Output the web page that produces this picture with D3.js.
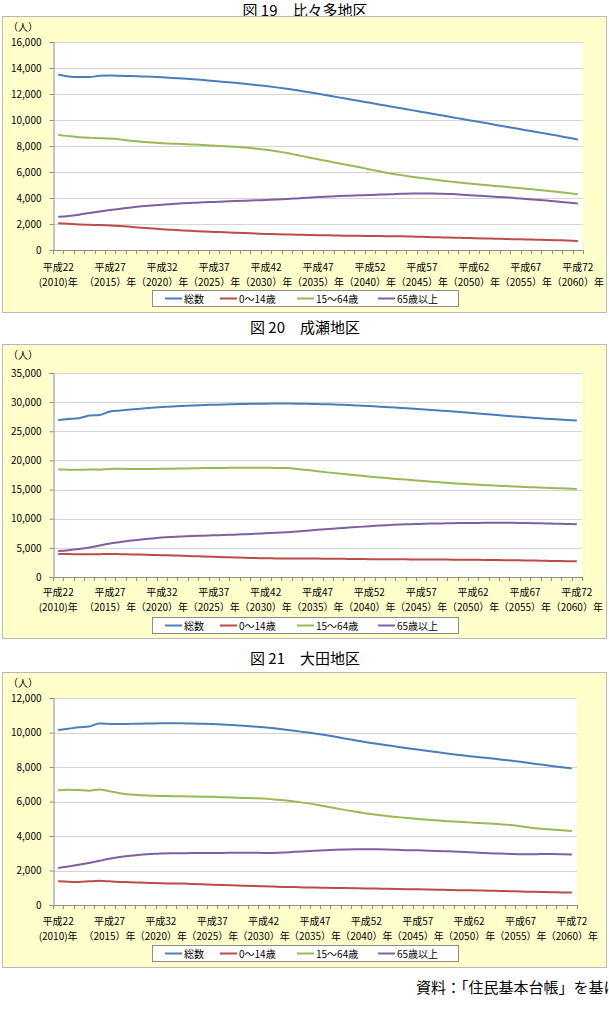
<!DOCTYPE html>
<html>
<head>
<meta charset="utf-8">
<script src="https://cdn.jsdelivr.net/npm/d3@7"></script>
<style>
  body { margin: 0; background: #fff; }
  svg { display: block; }
  text { font-family: "Noto Sans CJK JP", sans-serif; fill: #000; }
</style>
</head>
<body>
<svg id="chart" width="609" height="1010"></svg>
<script>
// categories (2010-2060, one per year)
var years = [2010,2011,2012,2013,2014,2015,2016,2017,2018,2019,2020,2021,2022,2023,2024,2025,2026,2027,2028,2029,
  2030,2031,2032,2033,2034,2035,2036,2037,2038,2039,2040,2041,2042,2043,2044,2045,2046,2047,2048,2049,
  2050,2051,2052,2053,2054,2055,2056,2057,2058,2059,2060];
var labelYears = [2010,2015,2020,2025,2030,2035,2040,2045,2050,2055,2060];
var heiseiLabels = ["平成22","平成27","平成32","平成37","平成42","平成47","平成52","平成57","平成62","平成67","平成72"];
var seirekiLabels = ["(2010)年","（2015）年","（2020）年","（2025）年","（2030）年","（2035）年","（2040）年","（2045）年","（2050）年","（2055）年","（2060）年"];
var seriesNames = ["総数","0～14歳","15～64歳","65歳以上"];

// 図19 比々多地区
var hibitaTotal = [13500,13350,13300,13310,13400,13420,13400,13380,13350,13320,13280,13240,13190,13130,13070,13000,12930,12860,12780,12700,
  12610,12510,12400,12280,12150,12020,11880,11740,11600,11460,11320,11180,11040,10900,10760,10620,10480,10340,10200,10060,
  9920,9780,9640,9500,9360,9220,9080,8940,8800,8650,8500];
var hibitaYoung = [2050,2010,1970,1940,1920,1890,1840,1780,1720,1660,1600,1550,1500,1460,1420,1390,1360,1330,1300,1270,
  1240,1220,1200,1180,1160,1140,1130,1110,1100,1090,1080,1070,1060,1050,1030,1010,990,970,950,930,
  910,890,870,850,830,810,790,770,750,730,700];
var hibitaWork = [8850,8760,8680,8630,8600,8570,8500,8400,8320,8270,8220,8180,8150,8110,8070,8030,7990,7940,7880,7800,
  7720,7600,7460,7300,7140,6980,6820,6670,6520,6360,6200,6040,5890,5760,5640,5530,5420,5330,5240,5150,
  5070,5000,4930,4860,4790,4720,4640,4560,4480,4390,4290];
var hibitaOld = [2550,2620,2720,2840,2960,3070,3170,3270,3360,3430,3490,3540,3590,3630,3670,3700,3730,3760,3790,3820,
  3850,3880,3920,3970,4020,4070,4110,4150,4180,4210,4240,4260,4280,4320,4340,4350,4350,4330,4300,4250,
  4200,4150,4100,4050,3990,3930,3870,3800,3730,3650,3570];

// 図20 成瀬地区
var naruseTotal = [26950,27100,27250,27700,27800,28400,28580,28730,28880,29020,29150,29250,29340,29420,29490,29550,29600,29650,29690,29720,
  29740,29750,29750,29740,29710,29670,29620,29560,29490,29410,29320,29220,29110,29010,28900,28780,28660,28540,28410,28270,
  28120,27970,27820,27680,27540,27410,27290,27170,27050,26940,26830];
var naruseYoung = [3950,3930,3910,3900,3920,3950,3920,3880,3840,3790,3740,3690,3640,3580,3520,3460,3400,3350,3300,3250,
  3210,3190,3180,3180,3170,3160,3140,3120,3100,3080,3060,3050,3040,3030,3020,3010,3000,2990,2980,2970,
  2950,2930,2910,2890,2870,2840,2810,2780,2750,2720,2700];
var naruseWork = [18450,18420,18380,18450,18400,18550,18560,18540,18520,18530,18560,18590,18620,18650,18680,18700,18720,18730,18740,18750,
  18740,18720,18680,18550,18350,18150,17950,17760,17580,17400,17230,17070,16920,16780,16640,16500,16360,16230,16100,15990,
  15890,15800,15710,15620,15540,15460,15380,15310,15240,15170,15100];
var naruseOld = [4450,4600,4800,5050,5400,5750,6000,6250,6450,6620,6780,6880,6960,7030,7090,7150,7210,7270,7340,7420,
  7500,7580,7680,7800,7950,8100,8230,8350,8480,8600,8720,8830,8920,9000,9060,9110,9160,9200,9230,9260,
  9280,9290,9300,9300,9290,9270,9240,9200,9150,9100,9050];

// 図21 大田地区
var otaTotal = [10150,10220,10300,10350,10520,10500,10490,10500,10510,10520,10530,10530,10530,10520,10510,10490,10460,10430,10390,10350,
  10300,10240,10170,10100,10020,9940,9850,9750,9640,9540,9440,9350,9260,9170,9090,9010,8930,8850,8770,8700,
  8630,8570,8510,8440,8370,8300,8220,8140,8060,7990,7920];
var otaYoung = [1380,1350,1340,1370,1400,1370,1340,1320,1300,1280,1260,1250,1240,1220,1200,1180,1160,1140,1120,1100,
  1090,1070,1050,1040,1020,1010,1000,990,980,970,960,950,940,930,920,910,900,890,870,860,
  850,840,830,810,800,780,770,760,740,730,720];
var otaWork = [6650,6680,6660,6630,6700,6600,6480,6400,6360,6340,6320,6310,6300,6290,6280,6270,6250,6230,6210,6190,
  6170,6120,6070,6000,5920,5830,5720,5610,5500,5400,5310,5230,5160,5100,5040,4990,4940,4900,4860,4830,
  4790,4750,4720,4680,4640,4560,4480,4420,4370,4330,4290];
var otaOld = [2150,2230,2330,2440,2560,2680,2780,2850,2910,2950,2990,3000,3000,3010,3010,3020,3020,3030,3030,3030,
  3020,3020,3040,3080,3110,3140,3170,3200,3220,3230,3230,3230,3220,3200,3180,3170,3150,3130,3110,3090,
  3060,3030,3000,2980,2960,2940,2940,2950,2950,2940,2920];

var colors = ["#4a7ebb", "#be4b48", "#98b954", "#7d60a0"];

var charts = [
  { title: "図 19　比々多地区", titleY: 9, boxTop: 16, boxBottom: 312, unitY: 26, plotTop: 42, plotBottom: 250, plotRight: 583,
    yMax: 16000, yStep: 2000, lbl1: 266, lbl2: 281, legendY: 298, series: [hibitaTotal, hibitaYoung, hibitaWork, hibitaOld] },
  { title: "図 20　成瀬地区", titleY: 326, boxTop: 344, boxBottom: 638, unitY: 354, plotTop: 373, plotBottom: 577, plotRight: 582,
    yMax: 35000, yStep: 5000, lbl1: 591, lbl2: 606, legendY: 625, series: [naruseTotal, naruseYoung, naruseWork, naruseOld] },
  { title: "図 21　大田地区", titleY: 657, boxTop: 672, boxBottom: 967, unitY: 682, plotTop: 698, plotBottom: 905, plotRight: 577,
    yMax: 12000, yStep: 2000, lbl1: 920, lbl2: 935, legendY: 953, series: [otaTotal, otaYoung, otaWork, otaOld] }
];

var svg = d3.select("#chart");
var axisX = 53;

charts.forEach(function(c) {
  var g = svg.append("g");

  g.append("text").attr("x", 305).attr("y", c.titleY).attr("text-anchor", "middle")
    .attr("dominant-baseline", "central").style("font-size", "15px").text(c.title);

  g.append("rect").attr("x", 2.5).attr("y", c.boxTop + 0.5).attr("width", 604).attr("height", c.boxBottom - c.boxTop)
    .attr("fill", "#ffffcc").attr("stroke", "#b9b9b9");

  // plot area
  g.append("rect").attr("x", axisX).attr("y", c.plotTop).attr("width", c.plotRight - axisX)
    .attr("height", c.plotBottom - c.plotTop).attr("fill", "#fff");

  var x = d3.scalePoint().domain(years).range([axisX, c.plotRight]).padding(0.5);
  var y = d3.scaleLinear().domain([0, c.yMax]).range([c.plotBottom, c.plotTop]);
  var ticks = d3.range(0, c.yMax + 1, c.yStep);

  // gridlines
  g.selectAll(".grid").data(ticks.slice(1)).enter().append("line")
    .attr("x1", axisX).attr("x2", c.plotRight)
    .attr("y1", function(d) { return Math.round(y(d)) + 0.5; })
    .attr("y2", function(d) { return Math.round(y(d)) + 0.5; })
    .attr("stroke", "#d4d4d4");

  // y axis
  var yAxis = g.append("g").attr("transform", "translate(" + (axisX + 0.5) + ",0)")
    .call(d3.axisLeft(y).tickValues(ticks).tickFormat(d3.format(",")).tickSize(4).tickPadding(8));
  yAxis.select(".domain").attr("stroke", "#8c8c8c");
  yAxis.selectAll(".tick line").attr("stroke", "#8c8c8c");
  yAxis.selectAll("text").style("font-size", "10px").attr("fill", "#000")
    .style("font-family", "\"Noto Sans CJK JP\", sans-serif");

  g.append("text").attr("x", 8).attr("y", c.unitY).attr("dominant-baseline", "central")
    .style("font-size", "10px").text("（人）");

  // x axis with ticks on category boundaries
  var step = x.step();
  g.append("line").attr("x1", axisX).attr("x2", c.plotRight)
    .attr("y1", c.plotBottom + 0.5).attr("y2", c.plotBottom + 0.5).attr("stroke", "#8c8c8c");
  var bounds = years.map(function(d) { return x(d) - step / 2; }).concat([c.plotRight]);
  g.selectAll(".xt").data(bounds).enter().append("line")
    .attr("x1", function(d) { return Math.round(d) + 0.5; })
    .attr("x2", function(d) { return Math.round(d) + 0.5; })
    .attr("y1", c.plotBottom).attr("y2", c.plotBottom + 4).attr("stroke", "#8c8c8c");

  g.selectAll(".xl1").data(labelYears).enter().append("text")
    .attr("x", function(d) { return x(d); }).attr("y", c.lbl1)
    .attr("text-anchor", "middle").attr("dominant-baseline", "central").style("font-size", "10px")
    .text(function(d, i) { return heiseiLabels[i]; });
  g.selectAll(".xl2").data(labelYears).enter().append("text")
    .attr("x", function(d) { return x(d); }).attr("y", c.lbl2)
    .attr("text-anchor", "middle").attr("dominant-baseline", "central").style("font-size", "10px")
    .text(function(d, i) { return seirekiLabels[i]; });

  // series lines
  var line = d3.line().x(function(d, i) { return x(years[i]); }).y(function(d) { return y(d); })
    .curve(d3.curveMonotoneX);
  c.series.forEach(function(s, k) {
    g.append("path").datum(s).attr("d", line).attr("fill", "none")
      .attr("stroke", colors[k]).attr("stroke-width", 2).attr("stroke-linejoin", "round");
  });

  // legend
  var lg = g.append("g").attr("transform", "translate(0," + c.legendY + ")");
  lg.append("rect").attr("x", 152.5).attr("y", -7.5).attr("width", 306).attr("height", 16)
    .attr("fill", "#fff").attr("stroke", "#8c8c8c");
  var legX = [165, 220, 297, 378];
  seriesNames.forEach(function(n, k) {
    lg.append("line").attr("x1", legX[k]).attr("x2", legX[k] + 17).attr("y1", 0.5).attr("y2", 0.5)
      .attr("stroke", colors[k]).attr("stroke-width", 2);
    lg.append("text").attr("x", legX[k] + 19).attr("y", 0.5).attr("dominant-baseline", "central")
      .style("font-size", "10px").text(n);
  });
});

svg.append("text").attr("x", 416).attr("y", 986).attr("dominant-baseline", "central")
  .style("font-size", "15px").text("資料：「住民基本台帳」を基に作成");
</script>
</body>
</html>
